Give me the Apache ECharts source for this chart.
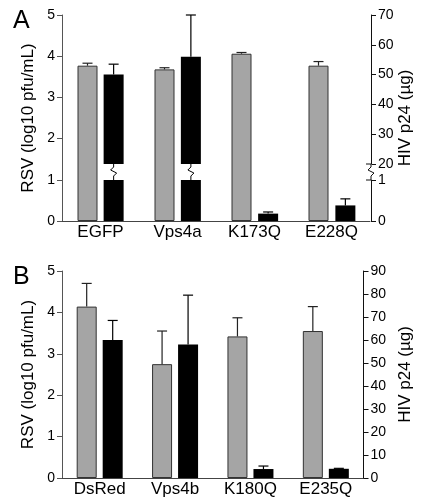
<!DOCTYPE html>
<html><head><meta charset="utf-8">
<script src="https://cdn.jsdelivr.net/npm/echarts@6/dist/echarts.min.js"></script>
<style>html,body{margin:0;padding:0;background:#fff}#c{width:422px;height:500px}</style>
</head><body><div id="c"></div>
<script>
// ---- Panel A data ----
const catsA = ['EGFP', 'Vps4a', 'K173Q', 'E228Q'];
const rsvA = [3.77, 3.68, 4.06, 3.77];          // log10 pfu/mL
const rsvErrA = [0.06, 0.04, 0.03, 0.10];
const hivA = [50, 56, 0.18, 0.38];              // µg
const hivErrA = [3.5, 14, 0.04, 0.16];
// ---- Panel B data ----
const catsB = ['DsRed', 'Vps4b', 'K180Q', 'E235Q'];
const rsvB = [4.14, 2.75, 3.42, 3.55];
const rsvErrB = [0.56, 0.80, 0.45, 0.59];
const hivB = [60, 58, 3.9, 4.0];
const hivErrB = [8.5, 21.5, 1.3, 0.2];
// ---- axes ----
const rsvTicks = [0, 1, 2, 3, 4, 5];
const hivAUpperRange = [20, 70];
const hivALowerRange = [0, 1];
const hivBRange = [0, 90];

const FONT = "'Liberation Sans', Arial, sans-serif";
const GREY = '#a5a5a5';
const BAR_W = 20, GAP_PX = 6;
const OFF = (BAR_W + GAP_PX) / 2;
const CAP = 5;

function errRender(offset, color) {
  return function (params, api) {
    const cat = api.value(0), v = api.value(1), e = api.value(2);
    const p0 = api.coord([cat, v]);
    const p1 = api.coord([cat, v + e]);
    const cs = params.coordSys;
    if (p0[1] < cs.y - 0.5 || p0[1] > cs.y + cs.height + 0.5) return null;
    const x = p0[0] + offset;
    return {
      type: 'group',
      children: [
        { type: 'line', shape: { x1: x, y1: p0[1], x2: x, y2: p1[1] }, style: { stroke: color, lineWidth: 1.2 } },
        { type: 'line', shape: { x1: x - CAP, y1: p1[1], x2: x + CAP, y2: p1[1] }, style: { stroke: color, lineWidth: 1.2 } }
      ]
    };
  };
}
function zig(x, y) {
  return [[x, y], [x, y + 3], [x - 3, y + 6], [x + 3, y + 9], [x, y + 12], [x, y + 16]];
}

const axLabel = { color: '#000', fontSize: 14, fontFamily: FONT };
const nameStyle = { color: '#000', fontSize: 17, fontFamily: FONT };
const catLabel = { color: '#000', fontSize: 17, fontFamily: FONT, margin: 3, interval: 0 };

const gA = { left: 62, right: 51 };
const option = {
  animation: false,
  title: [
    { text: 'A', left: 8, top: 4, textStyle: { fontSize: 25, fontWeight: 'normal', fontFamily: FONT, color: '#000' } },
    { text: 'B', left: 8, top: 260, textStyle: { fontSize: 25, fontWeight: 'normal', fontFamily: FONT, color: '#000' } }
  ],
  grid: [
    { left: gA.left, right: gA.right, top: 15, height: 206 },
    { left: gA.left, right: gA.right, top: 15, height: 149 },
    { left: gA.left, right: gA.right, top: 180, height: 41 },
    { left: 62, right: 50, top: 271, height: 207 }
  ],
  xAxis: [
    { type: 'category', gridIndex: 0, data: catsA, axisTick: { show: false }, axisLine: { lineStyle: { color: '#444' } }, axisLabel: catLabel },
    { type: 'category', gridIndex: 1, data: catsA, show: false },
    { type: 'category', gridIndex: 2, data: catsA, show: false },
    { type: 'category', gridIndex: 3, data: catsB, axisTick: { show: false }, axisLine: { lineStyle: { color: '#444' } }, axisLabel: catLabel }
  ],
  yAxis: [
    { type: 'value', gridIndex: 0, position: 'left', min: rsvTicks[0], max: rsvTicks[rsvTicks.length - 1], interval: 1,
      name: 'RSV (log10 pfu/mL)', nameLocation: 'middle', nameGap: 24, nameTextStyle: nameStyle,
      axisLine: { show: true, lineStyle: { color: '#555' } }, axisTick: { show: true, length: 5, lineStyle: { color: '#555' } },
      axisLabel: Object.assign({ margin: 7 }, axLabel), splitLine: { show: false } },
    { type: 'value', gridIndex: 0, position: 'right', min: 0, max: 5,
      name: 'HIV p24 (µg)', nameLocation: 'middle', nameRotate: 90, nameGap: 27, nameTextStyle: nameStyle,
      axisLine: { show: false }, axisTick: { show: false }, axisLabel: { show: false }, splitLine: { show: false } },
    { type: 'value', gridIndex: 1, position: 'right', min: hivAUpperRange[0], max: hivAUpperRange[1], interval: 10,
      axisLine: { show: true, lineStyle: { color: '#111' } }, axisTick: { show: true, length: 5, lineStyle: { color: '#111' } },
      axisLabel: Object.assign({ margin: 7 }, axLabel), splitLine: { show: false } },
    { type: 'value', gridIndex: 2, position: 'right', min: hivALowerRange[0], max: hivALowerRange[1], interval: 1,
      axisLine: { show: true, lineStyle: { color: '#111' } }, axisTick: { show: true, length: 5, lineStyle: { color: '#111' } },
      axisLabel: Object.assign({ margin: 7 }, axLabel), splitLine: { show: false } },
    { type: 'value', gridIndex: 3, position: 'left', min: rsvTicks[0], max: rsvTicks[rsvTicks.length - 1], interval: 1,
      name: 'RSV (log10 pfu/mL)', nameLocation: 'middle', nameGap: 24, nameTextStyle: nameStyle,
      axisLine: { show: true, lineStyle: { color: '#555' } }, axisTick: { show: true, length: 5, lineStyle: { color: '#555' } },
      axisLabel: Object.assign({ margin: 7 }, axLabel), splitLine: { show: false } },
    { type: 'value', gridIndex: 3, position: 'right', min: hivBRange[0], max: hivBRange[1], interval: 10,
      name: 'HIV p24 (µg)', nameLocation: 'middle', nameRotate: 90, nameGap: 27, nameTextStyle: nameStyle,
      axisLine: { show: true, lineStyle: { color: '#111' } }, axisTick: { show: true, length: 5, lineStyle: { color: '#111' } },
      axisLabel: Object.assign({ margin: 7 }, axLabel), splitLine: { show: false } }
  ],
  series: [
    // Panel A grey + placeholder
    { type: 'bar', xAxisIndex: 0, yAxisIndex: 0, data: rsvA, barWidth: BAR_W, barGap: '30%',
      itemStyle: { color: GREY, borderColor: '#333', borderWidth: 1 } },
    { type: 'bar', xAxisIndex: 0, yAxisIndex: 1, data: catsA.map(() => '-'), barWidth: BAR_W, barGap: '30%' },
    // Panel A black upper
    { type: 'bar', xAxisIndex: 1, yAxisIndex: 2, data: catsA.map(() => '-'), barWidth: BAR_W, barGap: '30%' },
    { type: 'bar', xAxisIndex: 1, yAxisIndex: 2, data: hivA, barWidth: BAR_W, barGap: '30%', clip: true,
      itemStyle: { color: '#000' } },
    // Panel A black lower
    { type: 'bar', xAxisIndex: 2, yAxisIndex: 3, data: catsA.map(() => '-'), barWidth: BAR_W, barGap: '30%' },
    { type: 'bar', xAxisIndex: 2, yAxisIndex: 3, data: hivA, barWidth: BAR_W, barGap: '30%', clip: true,
      itemStyle: { color: '#000' } },
    // Panel A errors
    { type: 'custom', xAxisIndex: 0, yAxisIndex: 0, renderItem: errRender(-OFF, '#222'), clip: false, z: 3,
      data: rsvA.map((v, i) => [i, v, rsvErrA[i]]) },
    { type: 'custom', xAxisIndex: 1, yAxisIndex: 2, renderItem: errRender(OFF, '#000'), clip: false, z: 3,
      data: hivA.map((v, i) => [i, v, hivErrA[i]]) },
    { type: 'custom', xAxisIndex: 2, yAxisIndex: 3, renderItem: errRender(OFF, '#000'), clip: false, z: 3,
      data: hivA.map((v, i) => [i, v, hivErrA[i]]) },
    // Panel A breaks on bars
    { type: 'custom', xAxisIndex: 1, yAxisIndex: 2, clip: false, z: 3,
      data: hivA.map((v, i) => [i, v]).filter(d => d[1] > hivAUpperRange[0]),
      renderItem: function (params, api) {
        const p = api.coord([api.value(0), hivAUpperRange[0]]);
        return { type: 'polyline', shape: { points: zig(p[0] + OFF, p[1]) }, style: { stroke: '#000', lineWidth: 1, fill: null } };
      } },
    // Panel A break on right axis
    { type: 'custom', xAxisIndex: 1, yAxisIndex: 2, clip: false, z: 3,
      data: [[0, hivAUpperRange[0]]],
      renderItem: function (params, api) {
        const cs = params.coordSys;
        const x = cs.x + cs.width;
        const y = api.coord([0, api.value(1)])[1];
        return { type: 'group', children: [
          { type: 'rect', shape: { x: x - 1, y: y + 0.5, width: 2, height: 15 }, style: { fill: '#fff' } },
          { type: 'polyline', shape: { points: zig(x, y) }, style: { stroke: '#111', lineWidth: 1, fill: null } },
          { type: 'line', shape: { x1: x - 5, y1: y, x2: x, y2: y }, style: { stroke: '#111', lineWidth: 1 } },
          { type: 'line', shape: { x1: x - 5, y1: y + 16, x2: x, y2: y + 16 }, style: { stroke: '#111', lineWidth: 1 } }
        ] };
      } },
    // Panel B
    { type: 'bar', xAxisIndex: 3, yAxisIndex: 4, data: rsvB, barWidth: BAR_W, barGap: '30%',
      itemStyle: { color: GREY, borderColor: '#333', borderWidth: 1 } },
    { type: 'bar', xAxisIndex: 3, yAxisIndex: 5, data: hivB, barWidth: BAR_W, barGap: '30%',
      itemStyle: { color: '#000' } },
    { type: 'custom', xAxisIndex: 3, yAxisIndex: 4, renderItem: errRender(-OFF, '#222'), clip: false, z: 3,
      data: rsvB.map((v, i) => [i, v, rsvErrB[i]]) },
    { type: 'custom', xAxisIndex: 3, yAxisIndex: 5, renderItem: errRender(OFF, '#000'), clip: false, z: 3,
      data: hivB.map((v, i) => [i, v, hivErrB[i]]) }
  ]
};
echarts.init(document.getElementById('c'), null, { renderer: 'canvas' }).setOption(option);
</script>
</body></html>
